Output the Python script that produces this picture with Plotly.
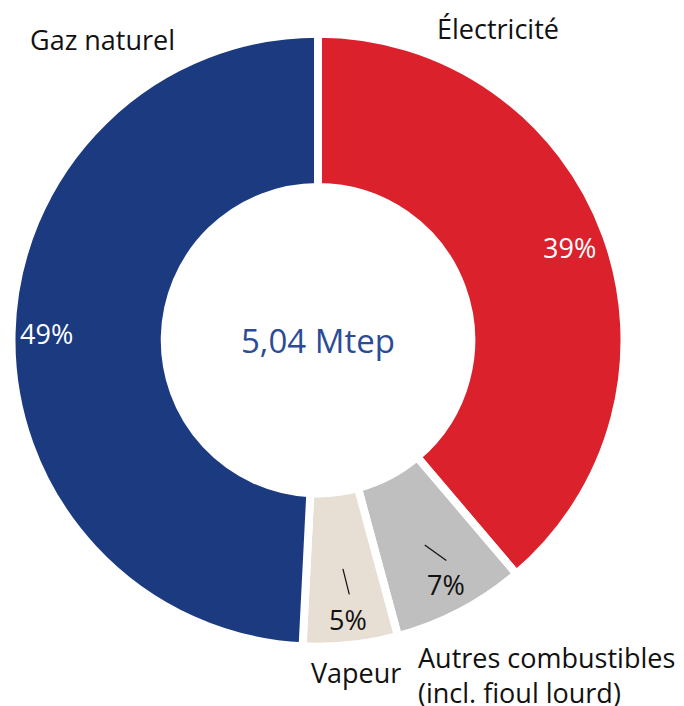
import math
import plotly.graph_objects as go

# ---------------- data ----------------
categories = ["Électricité", "Autres combustibles<br>(incl. fioul lourd)", "Vapeur", "Gaz naturel"]
values = [38.8, 7.0, 5.0, 49.2]
colors = ["#DA212C", "#BFBFBF", "#E7DED4", "#1B3A80"]
pct_text_colors = ["#FFFFFF", "#111111", "#111111", "#FFFFFF"]
center_label = "5,04 Mtep"

# ---------------- layout constants (pixels) ----------------
W, H = 684, 706
CX, CY = 318.0, 340.2          # donut centre
R_OUT = 306.5                  # outer radius incl. half the white border
GAP = 8                        # white separation between slices
HOLE = 0.5
LABEL_R = [268, 276, 281, 272]         # radius of the % labels
LEADER = {1: (231, 255, 0.2, -2.5), 2: (230, 256, -0.1, -0.9)}  # r0, r1, dAngle0, dAngle1
FONT = "Open Sans, Noto Sans, DejaVu Sans, sans-serif"
TXT = 27


def to_paper(px, py):
    return px / W, 1 - py / H


def polar(r, ang_deg):
    a = math.radians(ang_deg)
    return CX + r * math.sin(a), CY - r * math.cos(a)


fig = go.Figure(
    go.Pie(
        labels=categories,
        values=values,
        sort=False,
        direction="clockwise",
        rotation=0,
        hole=HOLE,
        marker=dict(colors=colors, line=dict(color="white", width=GAP)),
        textinfo="none",
        hoverinfo="label+percent",
        showlegend=False,
        domain=dict(
            x=[(CX - R_OUT) / W, (CX + R_OUT) / W],
            y=[1 - (CY + R_OUT) / H, 1 - (CY - R_OUT) / H],
        ),
    )
)

annotations = []
shapes = []
total = sum(values)
cum = 0.0
for i, v in enumerate(values):
    mid = (cum + v / 2) / total * 360.0
    cum += v
    px, py = polar(LABEL_R[i], mid)
    x, y = to_paper(px, py)
    annotations.append(dict(
        x=x, y=y, xref="paper", yref="paper", showarrow=False,
        text=f"{round(v / total * 100)}%",
        font=dict(family=FONT, size=TXT, color=pct_text_colors[i]),
        xanchor="center", yanchor="middle",
    ))
    if i in LEADER:
        r0, r1, d0, d1 = LEADER[i]
        x0, y0 = to_paper(*polar(r0, mid + d0))
        x1, y1 = to_paper(*polar(r1, mid + d1))
        shapes.append(dict(type="line", xref="paper", yref="paper",
                           x0=x0, y0=y0, x1=x1, y1=y1,
                           line=dict(color="#111111", width=1.2)))

# category labels placed around the ring
cat_pos = {
    "Gaz naturel": (28, 39),
    "Électricité": (435, 28),
    "Vapeur": (309, 672),
    "Autres combustibles<br>(incl. fioul lourd)": (416, 675),
}
for name, (px, py) in cat_pos.items():
    x, y = to_paper(px, py)
    annotations.append(dict(
        x=x, y=y, xref="paper", yref="paper", showarrow=False,
        text=name, align="left",
        font=dict(family=FONT, size=TXT, color="#111111"),
        xanchor="left", yanchor="middle",
    ))

# centre total
x, y = to_paper(CX, 341)
annotations.append(dict(
    x=x, y=y, xref="paper", yref="paper", showarrow=False,
    text=center_label,
    font=dict(family=FONT, size=33, color="#2B4B96"),
    xanchor="center", yanchor="middle",
))

fig.update_layout(
    width=W, height=H, autosize=False,
    margin=dict(l=0, r=0, t=0, b=0),
    paper_bgcolor="white", plot_bgcolor="white",
    annotations=annotations, shapes=shapes,
)

fig.write_html("out.html", post_script="document.body.style.margin='0px';",
               config={"displayModeBar": False})
